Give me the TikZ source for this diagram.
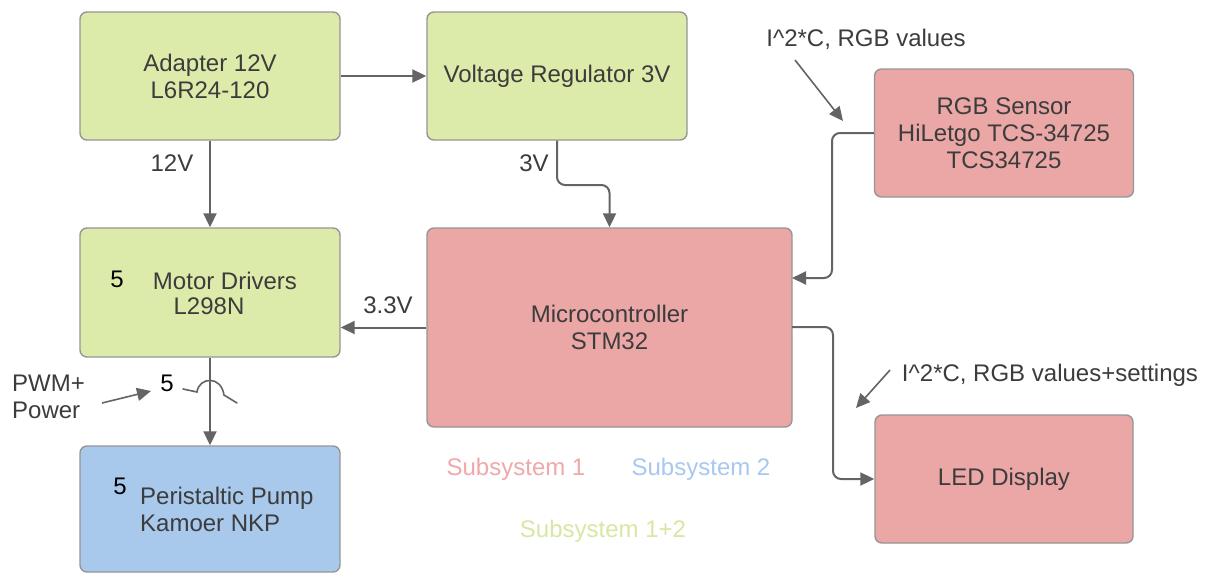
\documentclass[tikz,border=0pt]{standalone}
\usepackage{fontspec}
\setmainfont{Liberation Sans}
\usetikzlibrary{arrows.meta}
\definecolor{boxgreen}{RGB}{221,235,170}
\definecolor{boxpink}{RGB}{235,166,166}
\definecolor{boxblue}{RGB}{168,200,236}
\definecolor{edgegray}{RGB}{150,150,150}
\definecolor{linegray}{RGB}{100,100,100}
\definecolor{txtgray}{RGB}{60,60,60}
\definecolor{subpink}{RGB}{240,168,168}
\definecolor{subblue}{RGB}{168,200,240}
\definecolor{subgreen}{RGB}{214,232,162}
\tikzset{
  blk/.style={draw=edgegray, line width=1.4pt, rounded corners=7pt, inner sep=0pt,
    align=center, text=txtgray, font=\fontsize{24}{27}\selectfont},
  txt/.style={inner sep=0pt, text=txtgray, font=\fontsize{24}{27}\selectfont, align=center},
  num/.style={inner sep=0pt, text=black, font=\fontsize{24}{27}\selectfont},
  sub/.style={inner sep=0pt, font=\fontsize{24}{27}\selectfont},
  conn/.style={draw=linegray, line width=2pt, rounded corners=8pt,
    -{Triangle[length=14pt,width=13pt]}},
  plain/.style={draw=linegray, line width=1.6pt},
}
\begin{document}
\begin{tikzpicture}[x=1pt,y=-1pt]
\useasboundingbox[fill=white] (0,0) rectangle (1209,573);
% boxes
\node[blk, fill=boxgreen, minimum width=260pt, minimum height=128pt] (adp) at (210,76) {Adapter 12V\\L6R24-120};
\node[blk, fill=boxgreen, minimum width=260pt, minimum height=128pt] (vr) at (557,76) {Voltage Regulator 3V};
\node[blk, fill=boxpink, minimum width=259pt, minimum height=128pt] (rgb) at (1004,133) {RGB Sensor\\HiLetgo TCS-34725\\TCS34725};
\node[blk, fill=boxgreen, minimum width=260pt, minimum height=129pt] (md) at (210,292.5) {};
\node[blk, fill=boxpink, minimum width=365pt, minimum height=199pt] (mc) at (609.5,327.5) {Microcontroller\\STM32};
\node[blk, fill=boxpink, minimum width=258pt, minimum height=128pt] (led) at (1004,479) {LED Display};
\node[blk, fill=boxblue, minimum width=260pt, minimum height=126pt] (pump) at (210,509) {};
% texts inside MD and pump
\node[txt] (mdt1) at (225,281) {Motor Drivers};
\node[txt] (mdt2) at (209,306) {L298N};
\node[num] (md5) at (117,279) {5};
\node[txt, anchor=west] (pt1) at (140,498) {Peristaltic Pump};
\node[txt, anchor=west] (pt2) at (140,523) {Kamoer NKP};
\node[num] (p5) at (120,486) {5};
% connectors
\draw[conn] (adp.east) -- (vr.west);
\draw[conn] (adp.south) -- (md.north);
\node[txt] (l12) at (172,163) {12V};
\draw[conn] (vr.south) -- (557,185) -- (609.5,185) -- (mc.north);
\node[txt] (l3) at (534,163) {3V};
\coordinate (rgbin) at (792,278);
\draw[conn] (rgb.west) -- (832,133) -- (832,278) -- (rgbin);
\draw[conn] (mc.west) -- (mc.west -| md.east);
\node[txt] (l33) at (388,305) {3.3V};
\coordinate (mcout) at (792,327);
\draw[conn] (mcout) -- (833,327) -- (833,479) -- (led.west);
\draw[conn] (md.south) -- (pump.north);
% jump squiggle
\node[num] (j5) at (167,383) {5};
\coordinate (js) at (183,389);
\coordinate (je) at (237,403);
\draw[plain, line cap=round] (js) -- (197,392) .. controls (199,377) and (221,375) .. (224,395) -- (je);
% annotations
\node[txt, align=left, anchor=west] (pwm) at (12,397) {PWM+\\Power};
\coordinate (pwmA) at (102,403);
\coordinate (pwmB) at (151,391);
\draw[conn, line width=1.6pt] (pwmA) -- (pwmB);
\node[txt] (i2c1) at (866,39) {I\textasciicircum 2*C, RGB values};
\coordinate (i1A) at (795,60);
\coordinate (i1B) at (843,121);
\draw[conn, line width=1.6pt] (i1A) -- (i1B);
\node[txt] (i2c2) at (1050,375) {I\textasciicircum 2*C, RGB values+settings};
\coordinate (i2A) at (890,370);
\coordinate (i2B) at (856,408);
\draw[conn, line width=1.6pt] (i2A) -- (i2B);
% legend
\node[sub, text=subpink] (s1) at (516,469) {Subsystem 1};
\node[sub, text=subblue] (s2) at (701,469) {Subsystem 2};
\node[sub, text=subgreen] (s12) at (603,531) {Subsystem 1+2};
\end{tikzpicture}
\end{document}
